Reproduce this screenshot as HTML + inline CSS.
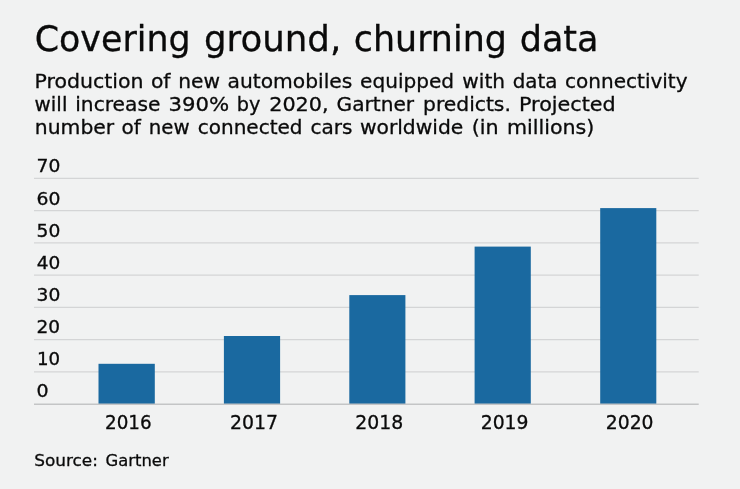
<!DOCTYPE html>
<html>
<head>
<meta charset="utf-8">
<title>Covering ground, churning data</title>
<style>
html,body{margin:0;padding:0;background:#f1f2f2;}
body{width:740px;height:489px;overflow:hidden;}
svg{display:block;}
text{font-family:"DejaVu Sans","Liberation Sans",sans-serif;fill:#0a0a0a;stroke:#0a0a0a;stroke-width:0.3;}
</style>
</head>
<body>
<svg width="740" height="489" viewBox="0 0 740 489">
<rect x="0" y="0" width="740" height="489" fill="#f1f2f2"/>
<g id="title" font-size="35.4" style="stroke-width:1.05">
<text id="title_0" x="34.72" y="50.60" textLength="155.88" lengthAdjust="spacingAndGlyphs">Covering</text>
<text id="title_1" x="204.01" y="50.60" textLength="137.22" lengthAdjust="spacingAndGlyphs">ground,</text>
<text id="title_2" x="353.82" y="50.60" textLength="153.03" lengthAdjust="spacingAndGlyphs">churning</text>
<text id="title_3" x="519.68" y="50.60" textLength="78.83" lengthAdjust="spacingAndGlyphs">data</text>
</g>
<g id="l1" font-size="19.8" style="stroke-width:0.45">
<text id="l1_0" x="34.52" y="88.30" textLength="109.05" lengthAdjust="spacingAndGlyphs">Production</text>
<text id="l1_1" x="150.92" y="88.30" textLength="19.62" lengthAdjust="spacingAndGlyphs">of</text>
<text id="l1_2" x="178.23" y="88.30" textLength="41.78" lengthAdjust="spacingAndGlyphs">new</text>
<text id="l1_3" x="227.50" y="88.30" textLength="124.90" lengthAdjust="spacingAndGlyphs">automobiles</text>
<text id="l1_4" x="360.14" y="88.30" textLength="93.98" lengthAdjust="spacingAndGlyphs">equipped</text>
<text id="l1_5" x="462.30" y="88.30" textLength="42.76" lengthAdjust="spacingAndGlyphs">with</text>
<text id="l1_6" x="512.63" y="88.30" textLength="44.70" lengthAdjust="spacingAndGlyphs">data</text>
<text id="l1_7" x="565.01" y="88.30" textLength="122.59" lengthAdjust="spacingAndGlyphs">connectivity</text>
</g>
<g id="l2" font-size="19.8" style="stroke-width:0.45">
<text id="l2_0" x="34.64" y="111.25" textLength="32.77" lengthAdjust="spacingAndGlyphs">will</text>
<text id="l2_1" x="75.28" y="111.25" textLength="85.08" lengthAdjust="spacingAndGlyphs">increase</text>
<text id="l2_2" x="168.48" y="111.25" textLength="60.73" lengthAdjust="spacingAndGlyphs">390%</text>
<text id="l2_3" x="236.80" y="111.25" textLength="23.65" lengthAdjust="spacingAndGlyphs">by</text>
<text id="l2_4" x="269.23" y="111.25" textLength="59.41" lengthAdjust="spacingAndGlyphs">2020,</text>
<text id="l2_5" x="336.52" y="111.25" textLength="77.59" lengthAdjust="spacingAndGlyphs">Gartner</text>
<text id="l2_6" x="423.02" y="111.25" textLength="87.87" lengthAdjust="spacingAndGlyphs">predicts.</text>
<text id="l2_7" x="519.02" y="111.25" textLength="96.62" lengthAdjust="spacingAndGlyphs">Projected</text>
</g>
<g id="l3" font-size="19.8" style="stroke-width:0.45">
<text id="l3_0" x="34.81" y="134.35" textLength="79.39" lengthAdjust="spacingAndGlyphs">number</text>
<text id="l3_1" x="121.58" y="134.35" textLength="19.37" lengthAdjust="spacingAndGlyphs">of</text>
<text id="l3_2" x="148.79" y="134.35" textLength="40.87" lengthAdjust="spacingAndGlyphs">new</text>
<text id="l3_3" x="197.70" y="134.35" textLength="104.91" lengthAdjust="spacingAndGlyphs">connected</text>
<text id="l3_4" x="310.40" y="134.35" textLength="42.00" lengthAdjust="spacingAndGlyphs">cars</text>
<text id="l3_5" x="359.90" y="134.35" textLength="103.45" lengthAdjust="spacingAndGlyphs">worldwide</text>
<text id="l3_6" x="471.72" y="134.35" textLength="26.96" lengthAdjust="spacingAndGlyphs">(in</text>
<text id="l3_7" x="506.92" y="134.35" textLength="87.51" lengthAdjust="spacingAndGlyphs">millions)</text>
</g>
<g id="src" font-size="16.5" style="stroke-width:0.4">
<text id="src_0" x="34.19" y="465.60" textLength="63.74" lengthAdjust="spacingAndGlyphs">Source:</text>
<text id="src_1" x="105.46" y="465.60" textLength="63.19" lengthAdjust="spacingAndGlyphs">Gartner</text>
</g>
<g id="y0" font-size="16.8" style="stroke-width:0.15">
<text id="y0_0" x="36.58" y="172.45" textLength="23.78" lengthAdjust="spacingAndGlyphs">70</text>
</g>
<g id="y1" font-size="16.8" style="stroke-width:0.15">
<text id="y1_0" x="36.44" y="204.50" textLength="23.92" lengthAdjust="spacingAndGlyphs">60</text>
</g>
<g id="y2" font-size="16.8" style="stroke-width:0.15">
<text id="y2_0" x="36.58" y="236.55" textLength="23.78" lengthAdjust="spacingAndGlyphs">50</text>
</g>
<g id="y3" font-size="16.8" style="stroke-width:0.15">
<text id="y3_0" x="36.76" y="268.60" textLength="23.58" lengthAdjust="spacingAndGlyphs">40</text>
</g>
<g id="y4" font-size="16.8" style="stroke-width:0.15">
<text id="y4_0" x="36.58" y="300.65" textLength="23.78" lengthAdjust="spacingAndGlyphs">30</text>
</g>
<g id="y5" font-size="16.8" style="stroke-width:0.15">
<text id="y5_0" x="36.59" y="332.75" textLength="23.57" lengthAdjust="spacingAndGlyphs">20</text>
</g>
<g id="y6" font-size="16.8" style="stroke-width:0.15">
<text id="y6_0" x="37.04" y="364.85" textLength="23.14" lengthAdjust="spacingAndGlyphs">10</text>
</g>
<g id="y7" font-size="16.8" style="stroke-width:0.15">
<text id="y7_0" x="36.63" y="396.95" textLength="12.09" lengthAdjust="spacingAndGlyphs">0</text>
</g>
<g id="x0" font-size="19.45" style="stroke-width:0.3">
<text id="x0_0" x="104.99" y="428.50" textLength="46.66" lengthAdjust="spacingAndGlyphs">2016</text>
</g>
<g id="x1" font-size="19.45" style="stroke-width:0.3">
<text id="x1_0" x="229.98" y="428.50" textLength="48.05" lengthAdjust="spacingAndGlyphs">2017</text>
</g>
<g id="x2" font-size="19.45" style="stroke-width:0.3">
<text id="x2_0" x="355.34" y="428.50" textLength="47.93" lengthAdjust="spacingAndGlyphs">2018</text>
</g>
<g id="x3" font-size="19.45" style="stroke-width:0.3">
<text id="x3_0" x="480.69" y="428.50" textLength="47.87" lengthAdjust="spacingAndGlyphs">2019</text>
</g>
<g id="x4" font-size="19.45" style="stroke-width:0.3">
<text id="x4_0" x="605.84" y="428.50" textLength="47.72" lengthAdjust="spacingAndGlyphs">2020</text>
</g>
<g stroke="#d4d5d6" stroke-width="1.15">
<line x1="34" x2="698.7" y1="178.4" y2="178.4"/>
<line x1="34" x2="698.7" y1="210.6" y2="210.6"/>
<line x1="34" x2="698.7" y1="242.9" y2="242.9"/>
<line x1="34" x2="698.7" y1="275.1" y2="275.1"/>
<line x1="34" x2="698.7" y1="307.4" y2="307.4"/>
<line x1="34" x2="698.7" y1="339.6" y2="339.6"/>
<line x1="34" x2="698.7" y1="371.9" y2="371.9"/>
</g>
<g fill="#1a69a0">
<rect x="98.5" y="363.8" width="56.3" height="40.4"/>
<rect x="223.9" y="336" width="56.2" height="68.2"/>
<rect x="349.3" y="295.1" width="56.1" height="109.1"/>
<rect x="474.6" y="246.6" width="56.2" height="157.6"/>
<rect x="600.2" y="208.1" width="56.1" height="196.1"/>
</g>
<line x1="34" x2="698.7" y1="404.2" y2="404.2" stroke="#c4c5c6" stroke-width="1.4"/>
</svg>
</body>
</html>
